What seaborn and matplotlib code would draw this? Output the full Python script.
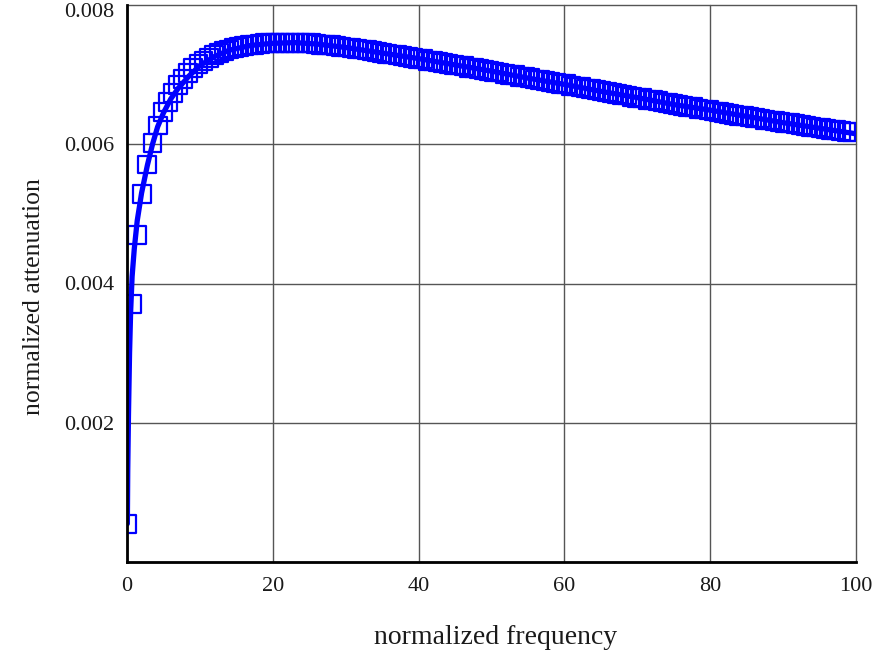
import numpy as np
import pandas as pd
import matplotlib
matplotlib.use("Agg")
import matplotlib.pyplot as plt
import matplotlib.transforms as mtransforms
import seaborn as sns

# Sampled points (square markers), spaced 0.7 apart in normalized frequency
marker_freq = [round(0.7 * i, 1) for i in range(143)]
marker_atten = [
    0.00054, 0.00370, 0.00470, 0.00528, 0.00571, 0.00602, 0.00627, 0.00646, 0.00661, 0.00674,
    0.00685, 0.00694, 0.00702, 0.00709, 0.00715, 0.00720, 0.00724, 0.00728, 0.00731, 0.00734,
    0.00736, 0.00738, 0.00740, 0.00741, 0.00742, 0.00743, 0.00744, 0.00745, 0.00745, 0.00746,
    0.00746, 0.00746, 0.00746, 0.00746, 0.00745, 0.00745, 0.00745, 0.00744, 0.00743, 0.00743,
    0.00742, 0.00741, 0.00740, 0.00739, 0.00738, 0.00737, 0.00736, 0.00735, 0.00734, 0.00732,
    0.00731, 0.00730, 0.00729, 0.00728, 0.00727, 0.00725, 0.00724, 0.00723, 0.00722, 0.00720,
    0.00719, 0.00718, 0.00717, 0.00715, 0.00714, 0.00713, 0.00712, 0.00710, 0.00709, 0.00708,
    0.00707, 0.00705, 0.00704, 0.00703, 0.00701, 0.00700, 0.00699, 0.00697, 0.00696, 0.00695,
    0.00693, 0.00692, 0.00691, 0.00689, 0.00688, 0.00687, 0.00686, 0.00684, 0.00683, 0.00682,
    0.00680, 0.00679, 0.00678, 0.00676, 0.00675, 0.00674, 0.00672, 0.00671, 0.00670, 0.00668,
    0.00667, 0.00666, 0.00664, 0.00663, 0.00662, 0.00660, 0.00659, 0.00658, 0.00656, 0.00655,
    0.00654, 0.00653, 0.00651, 0.00650, 0.00649, 0.00647, 0.00646, 0.00645, 0.00644, 0.00642,
    0.00641, 0.00640, 0.00639, 0.00638, 0.00637, 0.00635, 0.00634, 0.00633, 0.00632, 0.00631,
    0.00630, 0.00629, 0.00628, 0.00626, 0.00625, 0.00624, 0.00623, 0.00622, 0.00621, 0.00620,
    0.00619, 0.00618, 0.00617,
]

# Continuous curve
curve_freq = [0.05, 0.1, 0.2, 0.35, 0.5, 0.7, 1.0, 1.4, 2.0, 2.8, 3.5, 4.2, 5.0, 6.0, 7.0,
              8.5, 10.0, 12.0, 14.0, 17.0, 20.0, 23.0, 26.0, 30.0, 35.0, 40.0, 45.0, 50.0,
              55.0, 60.0, 65.0, 70.0, 75.0, 80.0, 85.0, 90.0, 95.0, 100.0]
curve_atten = [0.00055, 0.00130, 0.00210, 0.00300, 0.00360, 0.00410, 0.00450, 0.00490,
               0.00530, 0.00570, 0.00600, 0.00625, 0.00645, 0.00665, 0.00680, 0.00698,
               0.00713, 0.00726, 0.00735, 0.00742, 0.00745, 0.00746, 0.00744, 0.00739,
               0.00731, 0.00723, 0.00714, 0.00705, 0.00695, 0.00686, 0.00676, 0.00667,
               0.00657, 0.00649, 0.00640, 0.00631, 0.00623, 0.00615]

x_ticks = [0, 20, 40, 60, 80, 100]
y_ticks = [0.002, 0.004, 0.006, 0.008]
y_tick_labels = ["0.002", "0.004", "0.006", "0.008"]

sns.set_style("white")
plt.rcParams["font.family"] = ["Liberation Serif", "DejaVu Serif"]

fig = plt.figure(figsize=(8.8, 6.6), dpi=100)
ax = fig.add_axes([127 / 880, 1 - 562 / 660, 729 / 880, 557 / 660])

curve = pd.DataFrame({"f": curve_freq, "a": curve_atten})
pts = pd.DataFrame({"f": marker_freq, "a": marker_atten})

sns.lineplot(data=curve, x="f", y="a", ax=ax, color="#0000ff", linewidth=3.8,
             sort=False, zorder=3)
sns.scatterplot(data=pts, x="f", y="a", ax=ax, marker="s", s=165,
                color="#0000ff", edgecolor="#0000ff", linewidth=1.6, zorder=4)
ax.collections[-1].set_facecolor("none")

ax.set_xlim(0, 100)
ax.set_ylim(0, 0.008)

ax.set_xticks(x_ticks)
ax.set_xticklabels([str(t) for t in x_ticks])
ax.set_yticks([0.0] + y_ticks)
ax.set_yticklabels([""] + y_tick_labels)

ax.grid(True, color="#555555", linewidth=1.0)
ax.set_axisbelow(True)
for gl in ax.get_xgridlines() + ax.get_ygridlines():
    gl.set_clip_on(False)

for side in ("top", "right"):
    ax.spines[side].set_visible(False)
for side in ("left", "bottom"):
    ax.spines[side].set_color("black")
    ax.spines[side].set_linewidth(2.0)
    ax.spines[side].set_zorder(5)

ax.tick_params(axis="both", direction="inout", length=14, width=1.5,
               colors="black", labelsize=16, labelcolor="#1a1a1a")
ax.tick_params(axis="x", pad=4)
ax.tick_params(axis="y", pad=2)

# keep the topmost y label inside the figure
top_label = ax.get_yticklabels()[-1]
top_label.set_transform(top_label.get_transform() +
                        mtransforms.ScaledTranslation(0, -5 / 100, fig.dpi_scale_trans))

ax.set_xlabel("normalized frequency", fontsize=20, color="#1a1a1a")
ax.set_ylabel("normalized attenuation", fontsize=18.5, color="#1a1a1a")
ax.xaxis.set_label_coords(0.506, -0.113)
ax.yaxis.set_label_coords(-0.112, 0.476)

fig.savefig("out.png", dpi=100)
